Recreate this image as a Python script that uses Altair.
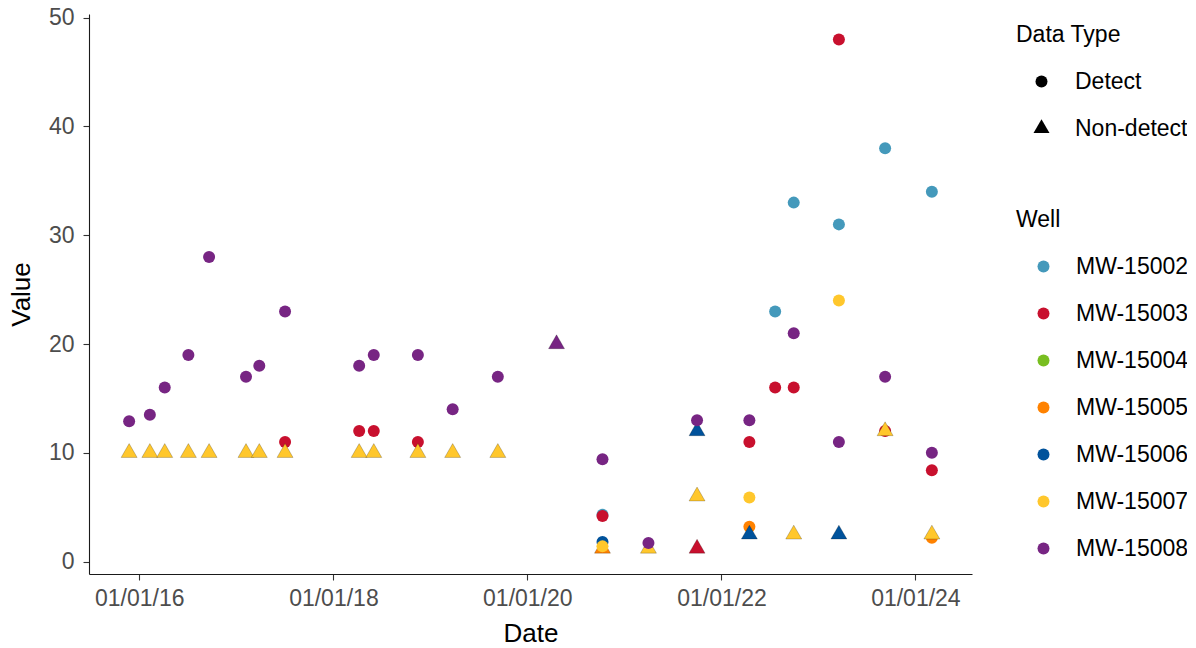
import altair as alt
import pandas as pd

wells = ["MW-15002", "MW-15003", "MW-15004", "MW-15005", "MW-15006", "MW-15007", "MW-15008"]
well_colors = ["#4499BB", "#C8102E", "#78BE20", "#FF8200", "#00529B", "#FFC72C", "#772583"]
data_types = ["Detect", "Non-detect"]

# MW-15002
mw15002_dates = ["2020-10-10", "2022-07-22", "2022-09-30", "2023-03-19", "2023-09-09", "2024-03-03"]
mw15002_values = [4.3, 23, 33, 31, 38, 34]
mw15002_types = ["Detect"] * 6

# MW-15003
mw15003_dates = ["2017-07-03", "2018-04-08", "2018-06-02", "2018-11-15", "2020-10-10", "2021-10-01",
                 "2022-04-16", "2022-07-22", "2022-09-30", "2023-03-19", "2023-09-09", "2024-03-03"]
mw15003_values = [11, 12, 12, 11, 4.2, 1.2, 11, 16, 16, 48, 12, 8.4]
mw15003_types = ["Detect", "Detect", "Detect", "Detect", "Detect", "Non-detect",
                 "Detect", "Detect", "Detect", "Detect", "Detect", "Detect"]

# MW-15004 (no visible points)
mw15004_dates = []
mw15004_values = []
mw15004_types = []

# MW-15005
mw15005_dates = ["2020-10-10", "2022-04-16", "2024-03-03"]
mw15005_values = [1.2, 3.2, 2.2]
mw15005_types = ["Non-detect", "Detect", "Detect"]

# MW-15006
mw15006_dates = ["2020-10-10", "2021-10-01", "2022-04-16", "2023-03-19"]
mw15006_values = [1.8, 12, 2.5, 2.5]
mw15006_types = ["Detect", "Non-detect", "Non-detect", "Non-detect"]

# MW-15007
mw15007_dates = ["2015-11-24", "2016-02-10", "2016-04-06", "2016-07-04", "2016-09-20", "2017-02-06",
                 "2017-03-28", "2017-07-03", "2018-04-08", "2018-06-02", "2018-11-15", "2019-03-26",
                 "2019-09-12", "2020-10-10", "2021-04-01", "2021-10-01", "2022-04-16", "2022-09-30",
                 "2023-03-19", "2023-09-09", "2024-03-03"]
mw15007_values = [10, 10, 10, 10, 10, 10, 10, 10, 10, 10, 10, 10, 10,
                  1.4, 1.2, 6.0, 5.9, 2.5, 24, 12, 2.5]
mw15007_types = ["Non-detect"] * 13 + ["Detect", "Non-detect", "Non-detect", "Detect",
                                       "Non-detect", "Detect", "Non-detect", "Non-detect"]

# MW-15008
mw15008_dates = ["2015-11-24", "2016-02-10", "2016-04-06", "2016-07-04", "2016-09-20", "2017-02-06",
                 "2017-03-28", "2017-07-03", "2018-04-08", "2018-06-02", "2018-11-15", "2019-03-26",
                 "2019-09-12", "2020-04-20", "2020-10-10", "2021-04-01", "2021-10-01", "2022-04-16",
                 "2022-09-30", "2023-03-19", "2023-09-09", "2024-03-03"]
mw15008_values = [12.9, 13.5, 16, 19, 28, 17, 18, 23, 18, 19, 19, 14, 17,
                  20, 9.4, 1.7, 13, 13, 21, 11, 17, 10]
mw15008_types = ["Detect"] * 13 + ["Non-detect"] + ["Detect"] * 8

series = [
    ("MW-15002", mw15002_dates, mw15002_values, mw15002_types),
    ("MW-15003", mw15003_dates, mw15003_values, mw15003_types),
    ("MW-15004", mw15004_dates, mw15004_values, mw15004_types),
    ("MW-15005", mw15005_dates, mw15005_values, mw15005_types),
    ("MW-15006", mw15006_dates, mw15006_values, mw15006_types),
    ("MW-15007", mw15007_dates, mw15007_values, mw15007_types),
    ("MW-15008", mw15008_dates, mw15008_values, mw15008_types),
]

rows = []
for w, ds, vs, ts in series:
    for d, v, t in zip(ds, vs, ts):
        rows.append({"Date": d, "Value": v, "Well": w, "Type": t})
df = pd.DataFrame(rows)

# ggplot-style 5% expansion of the axes
dts = pd.to_datetime(df["Date"])
dmin, dmax = dts.min(), dts.max()
span = dmax - dmin
x_lo = int((dmin - span * 0.05).value // 10**6)
x_hi = int((dmax + span * 0.05).value // 10**6)
vmin, vmax = df["Value"].min(), df["Value"].max()
vr = vmax - vmin
y_lo = vmin - vr * 0.05
y_hi = vmax + vr * 0.05

tick_years = [2016, 2018, 2020, 2022, 2024]
tick_vals = [alt.DateTime(year=y, month=1, date=1, utc=True) for y in tick_years]

tri = "M0,-1.1547L1,0.5774L-1,0.5774Z"

FONT = "Liberation Sans"

legend_common = dict(
    orient="none",
    padding=0,
    titleFontSize=23,
    titleFontWeight="normal",
    titleColor="black",
    titleFont=FONT,
    titlePadding=23,
    labelFontSize=23,
    labelColor="black",
    labelFont=FONT,
    rowPadding=23,
)

shape_legend = alt.Legend(
    title="Data Type",
    legendX=927, legendY=10,
    symbolFillColor="black", symbolStrokeWidth=0,
    symbolOffset=14, labelOffset=22,
    **legend_common,
)

chart = alt.Chart(df).mark_point(filled=True, opacity=1).encode(
    x=alt.X("Date:T",
            scale=alt.Scale(type="utc", domain=[x_lo, x_hi], nice=False),
            axis=alt.Axis(title="Date", format="%m/%d/%y", values=tick_vals,
                          labelPadding=7, titlePadding=10)),
    y=alt.Y("Value:Q",
            scale=alt.Scale(domain=[y_lo, y_hi], nice=False, zero=False),
            axis=alt.Axis(title="Value", values=[0, 10, 20, 30, 40, 50],
                          labelPadding=9, titlePadding=14)),
    color=alt.Color("Well:N",
                    scale=alt.Scale(domain=wells, range=well_colors),
                    legend=alt.Legend(title="Well", legendX=927, legendY=195,
                                      symbolType="circle", symbolSize=144, symbolStrokeWidth=0,
                                      symbolOffset=16, labelOffset=21,
                                      **legend_common)),
    shape=alt.Shape("Type:N",
                    scale=alt.Scale(domain=data_types, range=["circle", tri]),
                    legend=shape_legend),
    size=alt.Size("Type:N",
                  scale=alt.Scale(domain=data_types, range=[144, 256]),
                  legend=shape_legend),
    stroke=alt.value("black"),
    strokeOpacity=alt.value(0.3),
    strokeWidth=alt.condition(alt.datum.Type == "Non-detect", alt.value(0.7), alt.value(0)),
).properties(
    width=883,
    height=560,
    autosize=alt.AutoSizeParams(type="none"),
    padding={"left": 81, "top": 6, "right": 215, "bottom": 72},
).configure_view(
    stroke=None
).configure_axis(
    grid=False,
    domainColor="#1a1a1a",
    domainWidth=1.1,
    tickColor="#333333",
    tickWidth=1.1,
    tickSize=6,
    labelFont=FONT,
    labelFontSize=23,
    labelColor="#4D4D4D",
    titleFont=FONT,
    titleFontSize=26,
    titleFontWeight="normal",
    titleColor="black",
)

chart.save("out.html", embed_options={"renderer": "svg", "actions": False})
